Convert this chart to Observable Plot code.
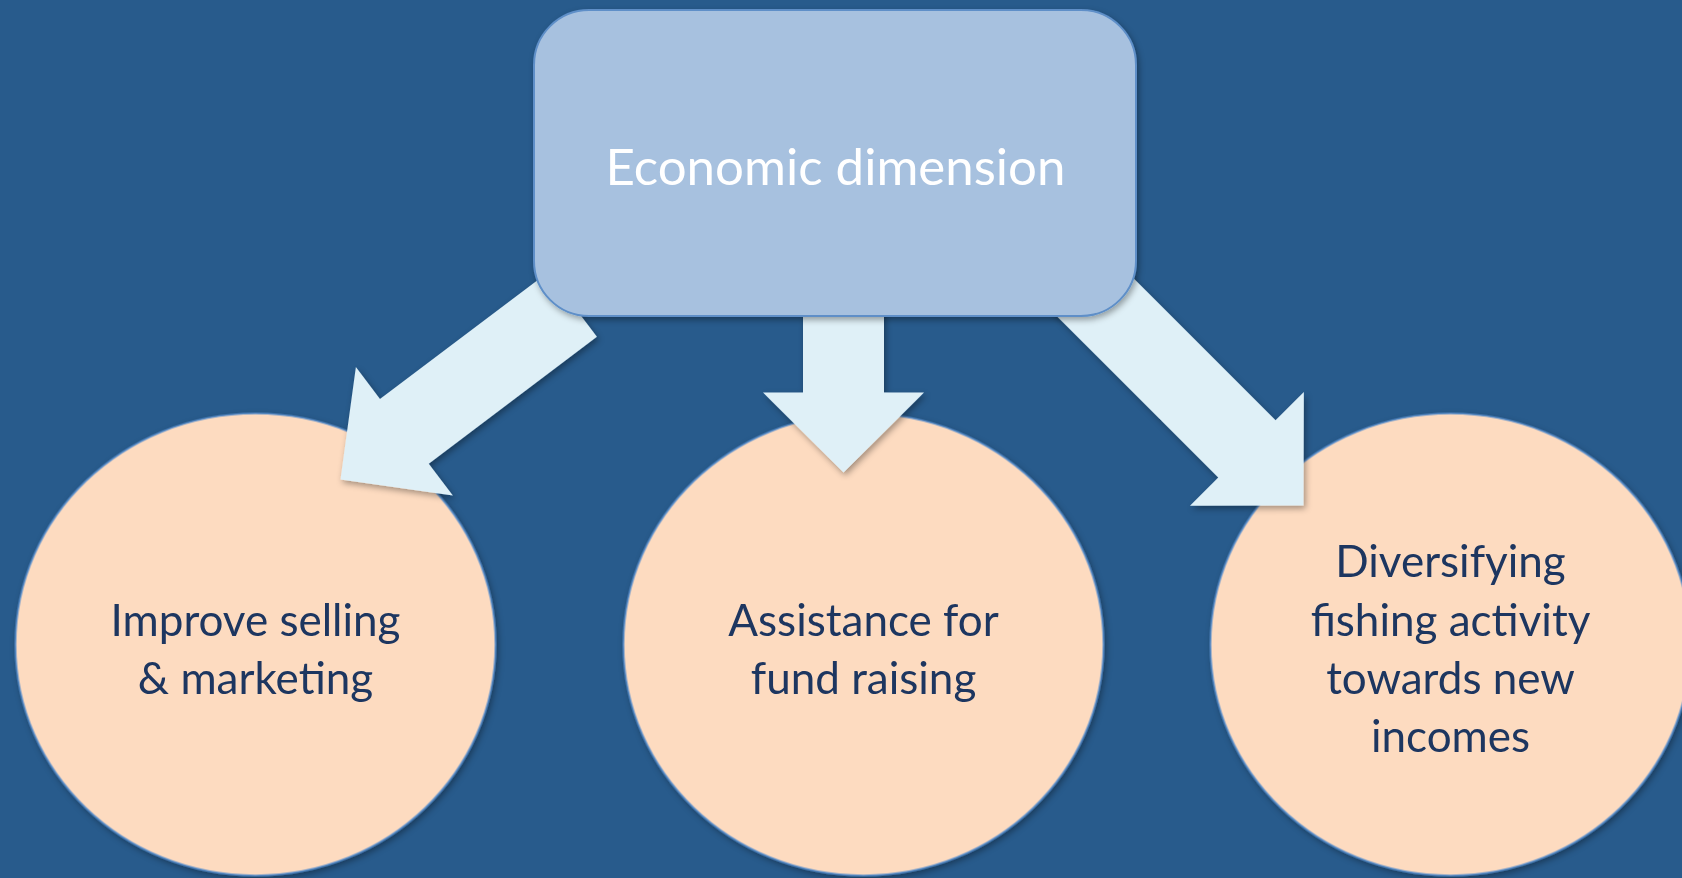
<!DOCTYPE html>
<html><head><meta charset="utf-8">
<script src="https://cdn.jsdelivr.net/npm/d3@7"></script>
<script src="https://cdn.jsdelivr.net/npm/@observablehq/plot@0.6"></script>
<style>html,body{margin:0;padding:0;background:#285B8C;overflow:hidden}</style>
</head><body><div id="chart"></div>
<script>
// ---- content ----
const rootLabel = "Economic dimension";
const childLabels = [
  "Improve selling\n& marketing",
  "Assistance for\nfund raising",
  "Diversifying\nfishing activity\ntowards new\nincomes"
];

// ---- layout (pixel space) ----
const W = 1682, H = 878;
const rootX1 = [534], rootX2 = [1136], rootY1 = [10], rootY2 = [316];
const rootTextX = [835], rootTextY = [168];
const childX = [255, 863, 1450];
const childY = [644, 644, 644];
const childTextY = [645.5, 645.5, 645.5];
const arrowTailX = [572, 843, 1040], arrowTailY = [304, 300, 242];
const arrowTipX = [340, 843, 1303], arrowTipY = [479, 472, 505];

// ---- style ----
const colBg = "#285B8C", colBox = "#A7C1DF", colBoxStroke = "#5E8FC8";
const colArrow = "#DFF0F7", colCircle = "#FDDBC0", colCircleStroke = "#5B8FCB";
const colChildText = "#1D3660";
const circleR = 236, aspectX = 240 / 236, aspectY = 231 / 236;
const shaftHalf = 40.5, headHalf = 80.5, headLen = 80;

// ellipse symbol for Plot.dot
const ellipseSymbol = {
  draw(ctx, size) {
    const r = Math.sqrt(size / Math.PI), rx = r * aspectX, ry = r * aspectY, k = 0.5523;
    ctx.moveTo(rx, 0);
    ctx.bezierCurveTo(rx, k * ry, k * rx, ry, 0, ry);
    ctx.bezierCurveTo(-k * rx, ry, -rx, k * ry, -rx, 0);
    ctx.bezierCurveTo(-rx, -k * ry, -k * rx, -ry, 0, -ry);
    ctx.bezierCurveTo(k * rx, -ry, rx, -k * ry, rx, 0);
    ctx.closePath();
  }
};

// build tables
const children = childLabels.map((label, i) => ({label, x: childX[i], y: childY[i], ty: childTextY[i]}));
const arrowPts = [];
arrowTailX.forEach((_, i) => {
  const tx = arrowTailX[i], ty = arrowTailY[i], px = arrowTipX[i], py = arrowTipY[i];
  const L = Math.hypot(px - tx, py - ty), dx = (px - tx) / L, dy = (py - ty) / L;
  const nx = -dy, ny = dx;
  const bx = px - headLen * dx, by = py - headLen * dy;
  const pts = [
    [tx + shaftHalf * nx, ty + shaftHalf * ny],
    [bx + shaftHalf * nx, by + shaftHalf * ny],
    [bx + headHalf * nx, by + headHalf * ny],
    [px, py],
    [bx - headHalf * nx, by - headHalf * ny],
    [bx - shaftHalf * nx, by - shaftHalf * ny],
    [tx - shaftHalf * nx, ty - shaftHalf * ny]
  ];
  pts.forEach(([x, y]) => arrowPts.push({id: i, x, y}));
});
const root = [{label: rootLabel, x1: rootX1[0], x2: rootX2[0], y1: rootY1[0], y2: rootY2[0], tx: rootTextX[0], ty: rootTextY[0]}];

const plot = Plot.plot({
  width: W, height: H,
  margin: 0,
  x: {domain: [0, W], range: [0, W], axis: null},
  y: {domain: [0, H], range: [0, H], axis: null},
  style: {background: colBg, overflow: "hidden"},
  marks: [
    Plot.dot(children, {x: "x", y: "y", r: circleR, symbol: ellipseSymbol, fill: colCircle, stroke: colCircleStroke, strokeWidth: 1.6}),
    Plot.line(arrowPts, {x: "x", y: "y", z: "id", curve: "linear-closed", fill: colArrow, stroke: "none"}),
    Plot.rect(root, {x1: "x1", x2: "x2", y1: "y1", y2: "y2", rx: 55, fill: colBox, stroke: colBoxStroke, strokeWidth: 2}),
    Plot.text(root, {x: "tx", y: "ty", text: "label", fill: "white", fontSize: 51, fontFamily: "Lato"}),
    Plot.text(children, {x: "x", y: "ty", text: "label", fill: colChildText, fontSize: 44, fontFamily: "Lato", lineHeight: 1.32})
  ]
});

const svg = d3.select(plot);
svg.insert("defs", ":first-child").html('<filter id="sh" x="-20%" y="-20%" width="140%" height="140%"><feDropShadow dx="2" dy="3" stdDeviation="3" flood-color="#000" flood-opacity="0.35"/></filter>');
svg.selectAll('g[aria-label="line"], g[aria-label="rect"], g[aria-label="dot"]').attr("filter", "url(#sh)");
document.getElementById("chart").appendChild(plot);
</script>
</body></html>
